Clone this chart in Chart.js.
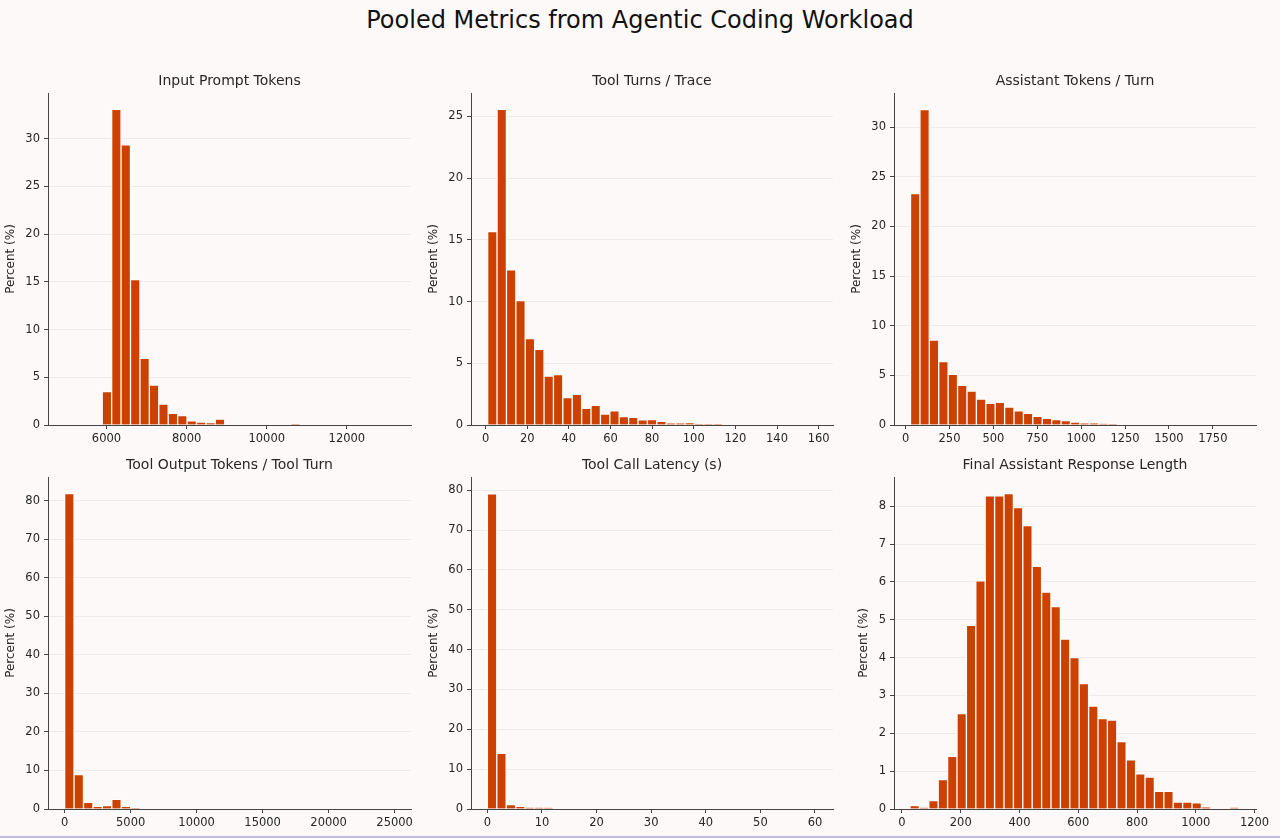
<!DOCTYPE html>
<html>
<head>
<meta charset="utf-8">
<script src="https://cdn.jsdelivr.net/npm/chart.js@4.4.1/dist/chart.umd.min.js"></script>
<style>
  html, body { margin: 0; padding: 0; }
  body { width: 1280px; height: 838px; background: #fdf9f9; position: relative; overflow: hidden; font-family: 'DejaVu Sans', sans-serif; }
  #suptitle { position: absolute; left: 0; top: 0; width: 1280px; height: 40px; line-height: 40px; text-align: center; font-size: 24px; color: #111; }
  .panel { position: absolute; }
  #edge { position: absolute; left: 0; top: 836px; width: 1280px; height: 2px; background: #c3b8e2; }
</style>
</head>
<body>
<div id="suptitle">Pooled Metrics from Agentic Coding Workload</div>
<div id="edge"></div>
<script>
'use strict';

// Panel titles
const panelTitles = [
  'Input Prompt Tokens',
  'Tool Turns / Trace',
  'Assistant Tokens / Turn',
  'Tool Output Tokens / Tool Turn',
  'Tool Call Latency (s)',
  'Final Assistant Response Length'
];

// Histogram bins: first edge and width (35 bins each)
const binStarts = [4952, 1, 28, 0, 0, 27.2];
const binWidths = [235.3, 4.514, 53.6, 714.3, 1.723, 32.0];

// Percent per bin
const inputPromptPct = [
  0, 0, 0, 0, 3.49, 33.08, 29.37, 15.23, 6.99, 4.19, 2.2, 1.22, 0.98, 0.45, 0.31, 0.24, 0.63,
  0, 0, 0, 0, 0, 0, 0, 0.1, 0, 0, 0, 0, 0, 0, 0, 0, 0, 0
];
const toolTurnsPct = [
  15.68, 25.57, 12.57, 10.08, 7.0, 6.14, 3.97, 4.08, 2.22, 2.49, 1.35, 1.59, 0.89, 1.14, 0.68,
  0.62, 0.41, 0.43, 0.3, 0.16, 0.14, 0.19, 0.06, 0.05, 0.05, 0, 0, 0, 0, 0, 0, 0, 0, 0, 0
];
const assistantTokensPct = [
  23.32, 31.78, 8.56, 6.38, 5.1, 3.99, 3.42, 2.62, 2.18, 2.28, 1.81, 1.44, 1.17, 0.87, 0.67,
  0.54, 0.44, 0.3, 0.2, 0.17, 0.13, 0.07, 0, 0, 0, 0, 0, 0, 0, 0, 0, 0, 0, 0, 0
];
const toolOutputPct = [
  81.8, 8.9, 1.73, 0.69, 0.86, 2.5, 0.69, 0.26, 0, 0, 0, 0, 0, 0, 0, 0, 0, 0,
  0, 0, 0, 0, 0, 0, 0, 0, 0, 0, 0, 0, 0, 0, 0, 0, 0
];
const latencyPct = [
  79.1, 13.95, 1.09, 0.67, 0.33, 0.33, 0.3, 0, 0, 0, 0, 0, 0, 0, 0, 0, 0, 0,
  0, 0, 0, 0, 0, 0, 0, 0, 0, 0, 0, 0, 0, 0, 0, 0, 0
];
const finalLengthPct = [
  0.09, 0.035, 0.22, 0.78, 1.39, 2.52, 4.85, 6.03, 8.27, 8.27, 8.33, 7.96, 7.49, 6.41, 5.73,
  5.35, 4.49, 4.0, 3.31, 2.72, 2.39, 2.35, 1.78, 1.30, 0.93, 0.84, 0.47, 0.47, 0.18, 0.18,
  0.16, 0.05, 0, 0, 0.04
];
const panelValues = [inputPromptPct, toolTurnsPct, assistantTokensPct, toolOutputPct, latencyPct, finalLengthPct];

// Tick labels
const xTicks = [
  [6000, 8000, 10000, 12000],
  [0, 20, 40, 60, 80, 100, 120, 140, 160],
  [0, 250, 500, 750, 1000, 1250, 1500, 1750],
  [0, 5000, 10000, 15000, 20000, 25000],
  [0, 10, 20, 30, 40, 50, 60],
  [0, 200, 400, 600, 800, 1000, 1200]
];
const yTicks = [
  [0, 5, 10, 15, 20, 25, 30],
  [0, 5, 10, 15, 20, 25],
  [0, 5, 10, 15, 20, 25, 30],
  [0, 10, 20, 30, 40, 50, 60, 70, 80],
  [0, 10, 20, 30, 40, 50, 60, 70, 80],
  [0, 1, 2, 3, 4, 5, 6, 7, 8]
];

// Layout: plot area rect and axis ranges
const panels = [
  { left: 48,  top: 93,  w: 363, h: 332, yW: 48, xMin: 4540, xMax: 13600, yMax: 34.8 },
  { left: 471, top: 93,  w: 362, h: 332, yW: 48, xMin: -7.0, xMax: 166.9, yMax: 26.9 },
  { left: 894, top: 93,  w: 362, h: 332, yW: 48, xMin: -66,  xMax: 1996,  yMax: 33.45 },
  { left: 48,  top: 477, w: 363, h: 332, yW: 48, xMin: -1260, xMax: 26240, yMax: 86.1 },
  { left: 471, top: 477, w: 362, h: 332, yW: 48, xMin: -3.0, xMax: 63.3,  yMax: 83.3 },
  { left: 894, top: 477, w: 362, h: 332, yW: 41, xMin: -27.2, xMax: 1205, yMax: 8.77 }
];

const barColor = '#cc4000';
const textColor = '#262626';
const spineColor = '#444444';
const gridColor = 'rgba(0,0,0,0.055)';
const TITLE_H = 30, XAXIS_H = 28;

Chart.defaults.font.family = "'DejaVu Sans', sans-serif";
Chart.defaults.color = textColor;

panels.forEach(function (p, i) {
  const wrap = document.createElement('div');
  wrap.className = 'panel';
  const cw = p.yW + p.w + p.yW, ch = TITLE_H + p.h + XAXIS_H;
  wrap.style.left = (p.left - p.yW) + 'px';
  wrap.style.top = (p.top - TITLE_H) + 'px';
  wrap.style.width = cw + 'px';
  wrap.style.height = ch + 'px';
  const canvas = document.createElement('canvas');
  canvas.width = cw;
  canvas.height = ch;
  wrap.appendChild(canvas);
  document.body.appendChild(wrap);

  const start = binStarts[i], width = binWidths[i];
  const points = panelValues[i].map(function (v, k) {
    return { x: start + (k + 0.5) * width, y: v > 0 ? v : null };
  });

  new Chart(canvas, {
    type: 'bar',
    data: {
      datasets: [{
        data: points,
        backgroundColor: barColor,
        borderColor: '#ffffff',
        borderWidth: 1,
        barPercentage: 1,
        categoryPercentage: 1
      }]
    },
    options: {
      responsive: false,
      animation: false,
      devicePixelRatio: 1,
      layout: { padding: { left: 0, right: p.yW, top: 0, bottom: 0 } },
      plugins: {
        legend: { display: false },
        tooltip: { enabled: false },
        title: {
          display: true,
          fullSize: false,
          text: panelTitles[i],
          color: textColor,
          font: { size: 14, weight: 'normal' },
          padding: { top: 9.6, bottom: 3.6 }
        }
      },
      scales: {
        x: {
          type: 'linear',
          offset: false,
          bounds: 'data',
          min: p.xMin,
          max: p.xMax,
          afterBuildTicks: function (scale) {
            scale.ticks = xTicks[i].map(function (v) { return { value: v }; });
          },
          afterFit: function (scale) { scale.height = XAXIS_H; },
          grid: { offset: false, drawOnChartArea: false, drawTicks: true, tickLength: 4, tickColor: spineColor },
          border: { display: true, color: spineColor, width: 1, z: 1 },
          ticks: {
            autoSkip: false,
            maxRotation: 0,
            padding: 3,
            color: textColor,
            font: { size: 11.5 },
            callback: function (v) { return String(v); }
          }
        },
        y: {
          type: 'linear',
          min: 0,
          max: p.yMax,
          afterBuildTicks: function (scale) {
            scale.ticks = yTicks[i].map(function (v) { return { value: v }; });
          },
          afterFit: function (scale) { scale.width = p.yW; },
          grid: { color: gridColor, drawTicks: true, tickLength: 4, tickColor: spineColor },
          border: { display: true, color: spineColor, width: 1, z: 1 },
          title: {
            display: true,
            text: 'Percent (%)',
            color: textColor,
            font: { size: 12 },
            padding: { top: 4, bottom: 0 }
          },
          ticks: {
            padding: 4,
            color: textColor,
            font: { size: 11.5 },
            callback: function (v) { return String(v); }
          }
        }
      }
    }
  });
});
</script>
</body>
</html>
